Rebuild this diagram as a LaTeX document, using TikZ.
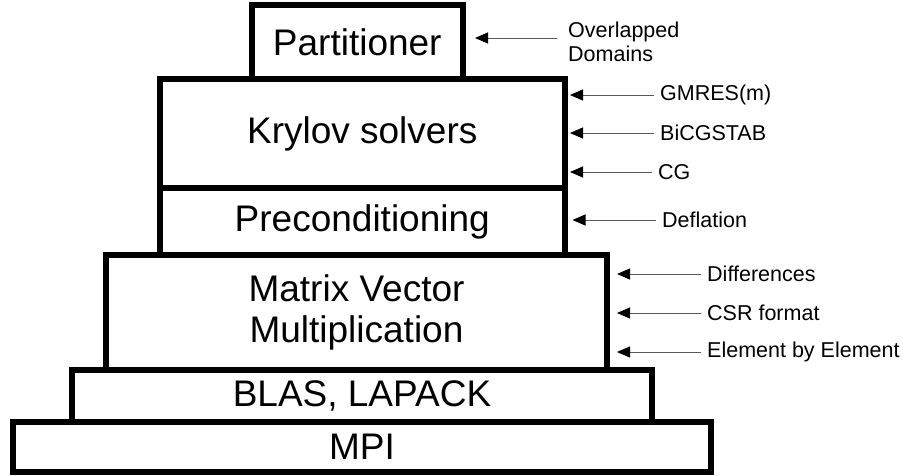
\documentclass[tikz,border=0pt]{standalone}
\usepackage{fontspec}
\setmainfont{Liberation Sans}
\usetikzlibrary{arrows.meta,positioning}
\tikzset{layer/.style={draw,line width=6pt,align=center,inner sep=0pt,outer sep=0pt,font=\fontsize{37}{41}\selectfont},
  note/.style={anchor=west,inner sep=0pt,align=left,font=\fontsize{21.5}{24}\selectfont},
  arr/.style={-{Triangle[length=13pt,width=11pt,color=black]},draw=black!65,line width=0.9pt,shorten <=6pt,shorten >=8pt}}

\begin{document}
\begin{tikzpicture}[x=1pt,y=-1pt]
\useasboundingbox (0,0) rectangle (903,476);
% the stack, widest layer at the bottom
\node[layer,minimum width=698.5pt,minimum height=50.5pt] (mpi) at (362,447) {MPI};
\node[layer,minimum width=580pt,minimum height=52pt] (blas) at (362,396) {BLAS, LAPACK};
\node[layer,minimum width=501pt,minimum height=115pt] (matvec) at (356.5,312.5) {Matrix Vector\\Multiplication};
\node[layer,minimum width=404.5pt,minimum height=67pt] (precond) at (362.25,221.5) {Preconditioning};
\node[layer,minimum width=404.5pt,minimum height=109pt] (krylov) at (362.25,133.5) {Krylov solvers};
\node[layer,minimum width=211.5pt,minimum height=73.5pt] (part) at (357.25,42.25) {Partitioner};
% what each layer offers
\node[note] (ovl) at (568,42) {Overlapped\\Domains};
\node[note] (gmres) at (660,95) {GMRES(m)};
\node[note] (bicg) at (660,133) {BiCGSTAB};
\node[note] (cg) at (658,172) {CG};
\node[note] (defl) at (662,220) {Deflation};
\node[note] (diff) at (707,274) {Differences};
\node[note] (csr) at (707,313) {CSR format};
\node[note] (ebe) at (707,352) {Element by Element};
\draw[arr,shorten <=11pt,shorten >=12pt] ([yshift=4pt]ovl.west) -- ([yshift=4pt]ovl.west -| part.east);
\draw[arr,shorten >=5.5pt] (gmres.west) -- (gmres.west -| krylov.east);
\draw[arr,shorten >=5.5pt] (bicg.west) -- (bicg.west -| krylov.east);
\draw[arr,shorten >=5.5pt] (cg.west) -- (cg.west -| krylov.east);
\draw[arr] (defl.west) -- (defl.west -| precond.east);
\draw[arr,shorten >=10pt] (diff.west) -- (diff.west -| matvec.east);
\draw[arr,shorten >=10pt] (csr.west) -- (csr.west -| matvec.east);
\draw[arr,shorten >=10pt] (ebe.west) -- (ebe.west -| matvec.east);
\end{tikzpicture}
\end{document}
